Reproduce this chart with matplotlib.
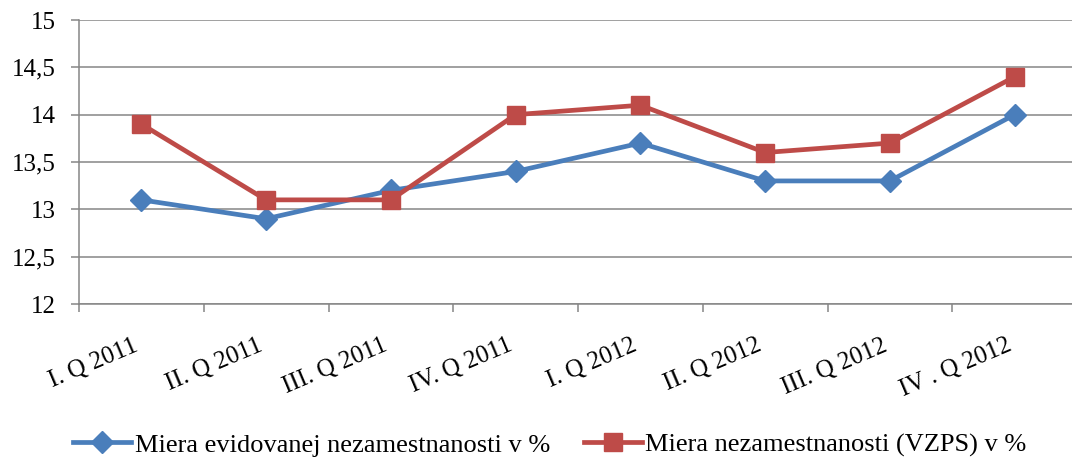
import matplotlib
matplotlib.use("Agg")
import matplotlib.pyplot as plt
import numpy as np

categories = ["I. Q 2011", "II. Q 2011", "III. Q 2011", "IV. Q 2011",
              "I. Q 2012", "II. Q 2012", "III. Q 2012", "IV . Q 2012"]
evidovana = [13.1, 12.9, 13.2, 13.4, 13.7, 13.3, 13.3, 14.0]
vzps = [13.9, 13.1, 13.1, 14.0, 14.1, 13.6, 13.7, 14.4]
yticks = [12, 12.5, 13, 13.5, 14, 14.5, 15]
ytick_labels = ["12", "12,5", "13", "13,5", "14", "14,5", "15"]
series_names = ["Miera evidovanej nezamestnanosti v %",
                "Miera nezamestnanosti (VZPS) v %"]

plt.rcParams['font.family'] = ['Liberation Serif', 'DejaVu Serif']

W, H = 1072, 461
fig = plt.figure(figsize=(W / 100, H / 100), dpi=100)
left, right, top, bottom = 79, 1077, 20, 304
ax = fig.add_axes([left / W, 1 - bottom / H, (right - left) / W, (bottom - top) / H])

x = np.arange(len(categories))
grid_c = "#868686"
ax.set_xlim(-0.5, len(categories) - 0.5)
ax.set_ylim(12, 15)
ax.set_yticks(yticks)
ax.set_yticklabels(ytick_labels, fontsize=18)
ax.yaxis.grid(True, color=grid_c, linewidth=1.1)
ax.set_axisbelow(True)

ax.set_xticks(np.arange(len(categories) + 1) - 0.5)
ax.set_xticklabels([])
ax.set_xticks(x, minor=True)
ax.set_xticklabels(categories, minor=True, fontsize=18, rotation=23, ha='right')
ax.tick_params(axis='x', which='minor', length=0, pad=22)
ax.tick_params(axis='x', which='major', length=5.5, color=grid_c, width=1.1)
ax.tick_params(axis='y', length=5.8, color=grid_c, width=1.1, pad=11)

for s in ['top', 'right']:
    ax.spines[s].set_visible(False)
for s in ['left', 'bottom']:
    ax.spines[s].set_color(grid_c)
    ax.spines[s].set_linewidth(1.1)

blue = "#4A7EBB"
red = "#BE4B48"
ax.plot(x, evidovana, color=blue, linewidth=3.4, marker='D', markersize=11,
        markeredgecolor=blue, label=series_names[0], clip_on=False, zorder=3)
ax.plot(x, vzps, color=red, linewidth=3.4, marker='s', markersize=13,
        markeredgecolor=red, label=series_names[1], clip_on=False, zorder=3)

fig.legend(loc='center', bbox_to_anchor=(0.513, 1 - 445 / H), ncol=2,
           frameon=False, fontsize=19, handlelength=2.2, handletextpad=0.12,
           columnspacing=1.3, borderaxespad=0)

fig.savefig("out.png", dpi=100)
